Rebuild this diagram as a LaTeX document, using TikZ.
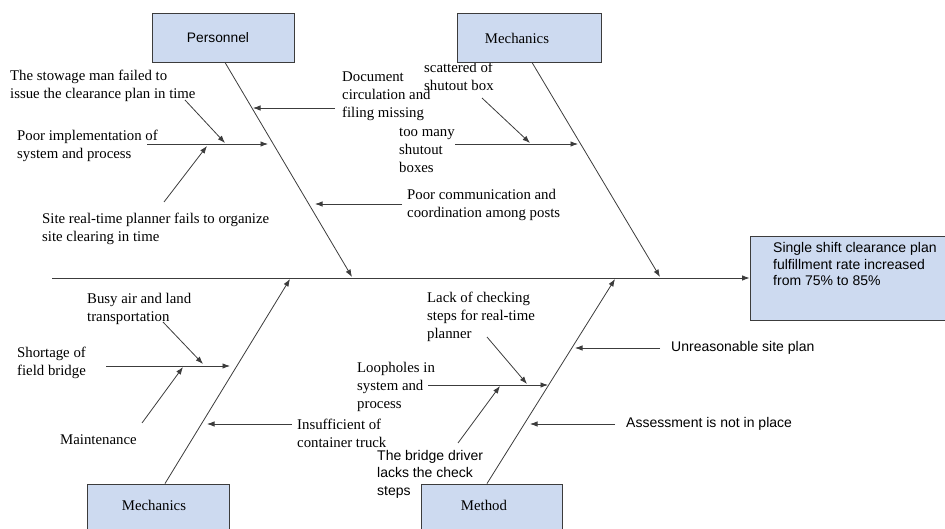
\documentclass[tikz,border=0pt]{standalone}
\usepackage{fontspec}
\setmainfont{Liberation Serif}
\newfontfamily\sansf{Liberation Sans}
\usetikzlibrary{arrows.meta}
\definecolor{boxblue}{RGB}{205,218,240}
\definecolor{edgegray}{RGB}{60,60,60}
\begin{document}
\begin{tikzpicture}[x=1pt,y=-1pt,
  catbox/.style={draw=edgegray, line width=0.9pt, fill=boxblue, inner sep=0pt},
  bone/.style={draw=edgegray, line width=0.8pt, -{Latex[length=7.5pt,width=5.5pt]}},
  sertext/.style={font=\fontsize{14.8}{18}\selectfont, inner sep=0pt, anchor=west, align=left},
  santext/.style={font=\sansf\fontsize{14}{17.5}\selectfont, inner sep=0pt, anchor=west, align=left},
  boxlabel/.style={inner sep=0pt}]
\useasboundingbox (0,0) rectangle (945,529);
\clip (0,0) rectangle (945,529);

% ---- texts ----
\node[sertext] (tstow) at (10,86) {The stowage man failed to\\issue the clearance plan in time};
\node[sertext] (tpoor) at (17,145.5) {Poor implementation of\\system and process};
\node[sertext] (tsite) at (42,229) {Site real-time planner fails to organize\\site clearing in time};
\node[sertext] (tdoc) at (342,96) {Document\\circulation and\\filing missing};
\node[sertext] (tcomm) at (407,204.5) {Poor communication and\\coordination among posts};
\node[sertext] (tscat) at (424,76) {scattered of\\shutout box};
\node[sertext] (tmany) at (399,150) {too many\\shutout\\boxes};
\node[sertext] (tbusy) at (87,308.5) {Busy air and land\\transportation};
\node[sertext] (tshort) at (17,362.5) {Shortage of\\field bridge};
\node[sertext] (tmaint) at (60,440) {Maintenance};
\node[sertext] (tinsuf) at (297,433) {Insufficient of\\container truck};
\node[sertext] (tlack) at (427,316.7) {Lack of checking\\steps for real-time\\planner};
\node[sertext] (tloop) at (357,386.7) {Loopholes in\\system and\\process};
\node[santext] (tbridge) at (377,474) {The bridge driver\\lacks the check\\steps};
\node[santext] (tunre) at (671,348) {Unreasonable site plan};
\node[santext] (tassess) at (626,424) {Assessment is not in place};

% ---- boxes ----
\node[catbox, minimum width=142pt, minimum height=49pt] (pers) at (223,37.5) {};
\node[catbox, minimum width=144pt, minimum height=49pt] (mecht) at (529,37.5) {};
\node[catbox, minimum width=142pt, minimum height=80pt] (mechb) at (158,524) {};
\node[catbox, minimum width=141pt, minimum height=80pt] (meth) at (491.5,524) {};
\node[catbox, minimum width=200pt, minimum height=84pt] (res) at (850,278) {};

\node[boxlabel, font=\sansf\fontsize{13.8}{16}\selectfont] (lpers) at (218,38) {Personnel};
\node[boxlabel, font=\fontsize{14.8}{18}\selectfont] (lmecht) at (517,38) {Mechanics};
\node[boxlabel, font=\fontsize{14.8}{18}\selectfont] (lmechb) at (154,505) {Mechanics};
\node[boxlabel, font=\fontsize{14.8}{18}\selectfont] (lmeth) at (484,505) {Method};
\node[boxlabel, font=\sansf\fontsize{14}{16.5}\selectfont, anchor=west, align=left] (lres) at (773,264) {Single shift clearance plan\\fulfillment rate increased\\from 75\% to 85\%};

% ---- spine ----
\coordinate (tail) at (52,278);
\draw[bone] (tail) -- (res.west);

% ---- main bones ----
\coordinate (pS) at (352,277);
\coordinate (mS) at (660,277);
\coordinate (bS) at (290,279);
\coordinate (dS) at (615,279);
\draw[bone] ([xshift=2pt]pers.south) -- (pS);
\draw[bone] ([xshift=3pt]mecht.south) -- (mS);
\draw[bone] ([xshift=7pt]mechb.north) -- (bS);
\draw[bone] ([xshift=-4.5pt]meth.north) -- (dS);

% ---- Personnel branches ----
\coordinate (docA) at (335,108); \coordinate (docB) at (253,108);
\draw[bone] (docA) -- (docB);
\coordinate (poorA) at (147,144); \coordinate (poorB) at (268,144);
\draw[bone] (poorA) -- (poorB);
\coordinate (stowA) at (185,100); \coordinate (stowB) at (225,143);
\draw[bone] (stowA) -- (stowB);
\coordinate (siteA) at (164,202); \coordinate (siteB) at (207,146);
\draw[bone] (siteA) -- (siteB);
\coordinate (commA) at (402,204); \coordinate (commB) at (315,204);
\draw[bone] (commA) -- (commB);

% ---- Mechanics (top) branches ----
\coordinate (manyA) at (455,144); \coordinate (manyB) at (578,144);
\draw[bone] (manyA) -- (manyB);
\coordinate (scatA) at (482,98); \coordinate (scatB) at (530,143);
\draw[bone] (scatA) -- (scatB);

% ---- Mechanics (bottom) branches ----
\coordinate (busyA) at (163,322); \coordinate (busyB) at (203,364);
\draw[bone] (busyA) -- (busyB);
\coordinate (shortA) at (106,366); \coordinate (shortB) at (230,366);
\draw[bone] (shortA) -- (shortB);
\coordinate (maintA) at (142,423); \coordinate (maintB) at (183,367);
\draw[bone] (maintA) -- (maintB);
\coordinate (insufA) at (292,424); \coordinate (insufB) at (207,424);
\draw[bone] (insufA) -- (insufB);

% ---- Method branches ----
\coordinate (lackA) at (487,337); \coordinate (lackB) at (527,384);
\draw[bone] (lackA) -- (lackB);
\coordinate (loopA) at (428,385); \coordinate (loopB) at (548,385);
\draw[bone] (loopA) -- (loopB);
\coordinate (bridA) at (458,443); \coordinate (bridB) at (500,386);
\draw[bone] (bridA) -- (bridB);
\coordinate (unreA) at (660,348); \coordinate (unreB) at (575,348);
\draw[bone] (unreA) -- (unreB);
\coordinate (assA) at (615,424); \coordinate (assB) at (530,424);
\draw[bone] (assA) -- (assB);
\end{tikzpicture}
\end{document}
